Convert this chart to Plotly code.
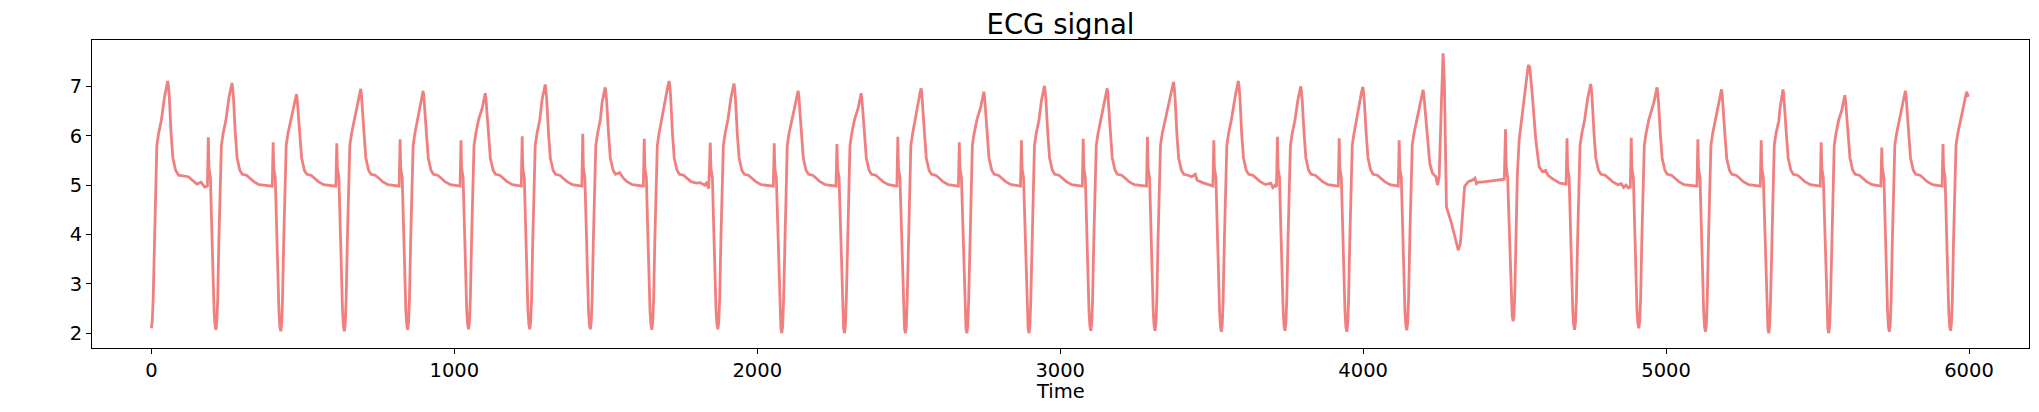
import plotly.graph_objects as go

# ECG trace, points (sample index, amplitude)
time_a = [0, 3, 6, 10, 14, 18, 24, 33, 44, 50, 54, 56, 59, 65, 71, 80, 90, 122, 135, 150, 164, 176, 185,
          188, 190, 195, 199, 203, 207, 210, 213, 216, 219, 223, 227, 231, 237, 246, 256, 262, 266, 268, 271, 277, 283, 292, 300, 314, 326, 338, 356, 399,
          402, 404, 409, 413, 417, 421, 424, 427, 430, 433, 437, 441, 445, 451, 460, 469, 475, 479, 481, 484, 490, 496, 505, 513, 527, 539, 551, 569, 609,
          612, 614, 619, 623, 627, 631, 634, 637, 640, 643, 647, 651, 655, 661, 670, 681, 687, 691, 693, 696, 702, 708, 717, 725, 739, 751, 763, 781, 818,
          821, 823, 828, 832, 836, 840, 843, 846, 849, 852, 856, 860, 864, 870, 879, 887, 893, 897, 899, 902, 908, 914, 923, 931, 945, 957, 969, 987, 1019]
ecg_a = [2.10, 2.25, 2.7, 3.9, 5.2, 5.8, 6.05, 6.32, 6.81, 7.01, 7.11, 7.03, 6.81, 6.05, 5.55, 5.3, 5.2, 5.17, 5.1, 5.02, 5.06, 4.96, 4.98,
         5.97, 5.35, 5.15, 4.2, 3.2, 2.45, 2.17, 2.07, 2.22, 2.7, 3.9, 5.2, 5.8, 6.05, 6.32, 6.77, 6.97, 7.07, 6.99, 6.77, 6.05, 5.55, 5.3, 5.22, 5.2, 5.14, 5.07, 5.01, 4.98,
         5.87, 5.35, 5.15, 4.2, 3.2, 2.45, 2.14, 2.04, 2.19, 2.7, 3.9, 5.2, 5.8, 6.05, 6.32, 6.54, 6.74, 6.84, 6.76, 6.54, 6.05, 5.55, 5.3, 5.22, 5.2, 5.14, 5.07, 5.01, 4.98,
         5.85, 5.35, 5.15, 4.2, 3.2, 2.45, 2.14, 2.04, 2.19, 2.7, 3.9, 5.2, 5.8, 6.05, 6.32, 6.65, 6.85, 6.95, 6.87, 6.65, 6.05, 5.55, 5.3, 5.22, 5.2, 5.14, 5.07, 5.01, 4.98,
         5.93, 5.35, 5.15, 4.2, 3.2, 2.45, 2.17, 2.07, 2.22, 2.7, 3.9, 5.2, 5.8, 6.05, 6.32, 6.61, 6.81, 6.91, 6.83, 6.61, 6.05, 5.55, 5.3, 5.22, 5.2, 5.14, 5.07, 5.01, 4.98]

time_b = [1022, 1024, 1029, 1033, 1037, 1041, 1044, 1047, 1050, 1053, 1057, 1061, 1065, 1071, 1080, 1092, 1098, 1102, 1104, 1107, 1113, 1119, 1128, 1136, 1150, 1162, 1174, 1192, 1221,
          1224, 1226, 1231, 1235, 1239, 1243, 1246, 1249, 1252, 1255, 1259, 1263, 1267, 1273, 1282, 1290, 1296, 1300, 1302, 1305, 1311, 1317, 1326, 1334, 1348, 1360, 1372, 1390, 1421,
          1424, 1426, 1431, 1435, 1439, 1443, 1446, 1449, 1452, 1455, 1459, 1463, 1467, 1473, 1482, 1488, 1494, 1498, 1500, 1503, 1509, 1515, 1524, 1532, 1546, 1558, 1570, 1588, 1624,
          1627, 1629, 1634, 1638, 1642, 1646, 1649, 1652, 1655, 1658, 1662, 1666, 1670, 1676, 1685, 1699, 1705, 1709, 1711, 1714, 1720, 1726, 1735, 1743, 1757, 1769, 1781, 1799, 1812, 1826, 1832, 1840,
          1845, 1847, 1852, 1856, 1860, 1864, 1867, 1870, 1873, 1876, 1880, 1884, 1888, 1894, 1903, 1913, 1919, 1923, 1925, 1928, 1934, 1940, 1949, 1957, 1971, 1983, 1995, 2013, 2053]
ecg_b = [5.91, 5.35, 5.15, 4.2, 3.2, 2.45, 2.18, 2.08, 2.23, 2.7, 3.9, 5.2, 5.8, 6.05, 6.32, 6.56, 6.76, 6.86, 6.78, 6.56, 6.05, 5.55, 5.3, 5.22, 5.2, 5.14, 5.07, 5.01, 4.98,
         5.99, 5.35, 5.15, 4.2, 3.2, 2.45, 2.18, 2.08, 2.23, 2.7, 3.9, 5.2, 5.8, 6.05, 6.32, 6.74, 6.94, 7.04, 6.96, 6.74, 6.05, 5.55, 5.3, 5.22, 5.2, 5.14, 5.07, 5.01, 4.98,
         6.04, 5.35, 5.15, 4.2, 3.2, 2.45, 2.18, 2.08, 2.23, 2.7, 3.9, 5.2, 5.8, 6.05, 6.32, 6.68, 6.88, 6.98, 6.90, 6.68, 6.05, 5.55, 5.3, 5.22, 5.25, 5.14, 5.07, 5.01, 4.98,
         5.94, 5.35, 5.15, 4.2, 3.2, 2.45, 2.17, 2.07, 2.22, 2.7, 3.9, 5.2, 5.8, 6.05, 6.32, 6.81, 7.01, 7.11, 7.03, 6.81, 6.05, 5.55, 5.3, 5.22, 5.2, 5.14, 5.07, 5.04, 5.05, 5.0, 5.04, 4.93,
         5.86, 5.35, 5.15, 4.2, 3.2, 2.45, 2.18, 2.08, 2.23, 2.7, 3.9, 5.2, 5.8, 6.05, 6.32, 6.76, 6.96, 7.06, 6.98, 6.76, 6.05, 5.55, 5.3, 5.22, 5.2, 5.14, 5.07, 5.01, 4.98]

time_c = [2056, 2058, 2063, 2067, 2071, 2075, 2078, 2081, 2084, 2087, 2091, 2095, 2099, 2105, 2114, 2125, 2131, 2135, 2137, 2140, 2146, 2152, 2161, 2169, 2183, 2195, 2207, 2225, 2260,
          2263, 2265, 2270, 2274, 2278, 2282, 2285, 2288, 2291, 2294, 2298, 2302, 2306, 2312, 2321, 2333, 2339, 2343, 2345, 2348, 2354, 2360, 2369, 2377, 2391, 2403, 2415, 2433, 2461,
          2464, 2466, 2471, 2475, 2479, 2483, 2486, 2489, 2492, 2495, 2499, 2503, 2507, 2513, 2522, 2531, 2537, 2541, 2543, 2546, 2552, 2558, 2567, 2575, 2589, 2601, 2613, 2631, 2664,
          2667, 2669, 2674, 2678, 2682, 2686, 2689, 2692, 2695, 2698, 2702, 2706, 2710, 2716, 2725, 2738, 2744, 2748, 2750, 2753, 2759, 2765, 2774, 2782, 2796, 2808, 2820, 2838, 2869,
          2872, 2874, 2879, 2883, 2887, 2891, 2894, 2897, 2900, 2903, 2907, 2911, 2915, 2921, 2930, 2938, 2944, 2948, 2950, 2953, 2959, 2965, 2974, 2982, 2996, 3008, 3020, 3038, 3073]
ecg_c = [5.85, 5.35, 5.15, 4.2, 3.2, 2.45, 2.1, 2.0, 2.15, 2.7, 3.9, 5.2, 5.8, 6.05, 6.32, 6.61, 6.81, 6.91, 6.83, 6.61, 6.05, 5.55, 5.3, 5.22, 5.2, 5.14, 5.07, 5.01, 4.98,
         5.83, 5.35, 5.15, 4.2, 3.2, 2.45, 2.1, 2.0, 2.15, 2.7, 3.9, 5.2, 5.8, 6.05, 6.32, 6.56, 6.76, 6.86, 6.78, 6.56, 6.05, 5.55, 5.3, 5.22, 5.2, 5.14, 5.07, 5.01, 4.98,
         5.98, 5.35, 5.15, 4.2, 3.2, 2.45, 2.1, 2.0, 2.15, 2.7, 3.9, 5.2, 5.8, 6.05, 6.32, 6.66, 6.86, 6.96, 6.88, 6.66, 6.05, 5.55, 5.3, 5.22, 5.2, 5.14, 5.07, 5.01, 4.98,
         5.87, 5.35, 5.15, 4.2, 3.2, 2.45, 2.1, 2.0, 2.15, 2.7, 3.9, 5.2, 5.8, 6.05, 6.32, 6.59, 6.79, 6.89, 6.81, 6.59, 6.05, 5.55, 5.3, 5.22, 5.2, 5.14, 5.07, 5.01, 4.98,
         5.91, 5.35, 5.15, 4.2, 3.2, 2.45, 2.1, 2.0, 2.15, 2.7, 3.9, 5.2, 5.8, 6.05, 6.32, 6.71, 6.91, 7.01, 6.93, 6.71, 6.05, 5.55, 5.3, 5.22, 5.2, 5.14, 5.07, 5.01, 4.98]

time_d = [3076, 3078, 3083, 3087, 3091, 3095, 3098, 3101, 3104, 3107, 3111, 3115, 3119, 3125, 3134, 3145, 3151, 3155, 3157, 3160, 3166, 3172, 3181, 3189, 3203, 3215, 3227, 3245, 3285,
          3288, 3290, 3295, 3299, 3303, 3307, 3310, 3313, 3316, 3319, 3323, 3327, 3331, 3337, 3346, 3364, 3370, 3374, 3376, 3379, 3385, 3391, 3400, 3408, 3422, 3434, 3446, 3452, 3470, 3504,
          3507, 3509, 3514, 3518, 3522, 3526, 3529, 3532, 3535, 3538, 3542, 3546, 3550, 3556, 3565, 3578, 3584, 3588, 3590, 3593, 3599, 3605, 3614, 3622, 3636, 3648, 3660, 3678, 3695, 3702, 3710, 3714,
          3717, 3719, 3724, 3728, 3732, 3736, 3739, 3742, 3745, 3748, 3752, 3756, 3760, 3766, 3775, 3784, 3790, 3794, 3796, 3799, 3805, 3811, 3820, 3828, 3842, 3854, 3866, 3884, 3918,
          3921, 3923, 3928, 3932, 3936, 3940, 3943, 3946, 3949, 3952, 3956, 3960, 3964, 3970, 3979, 3989, 3995, 3999, 4001, 4004, 4010, 4016, 4025, 4033, 4047, 4059, 4071, 4089, 4116]
ecg_d = [5.94, 5.35, 5.15, 4.2, 3.2, 2.45, 2.15, 2.05, 2.2, 2.7, 3.9, 5.2, 5.8, 6.05, 6.32, 6.66, 6.86, 6.96, 6.88, 6.66, 6.05, 5.55, 5.3, 5.22, 5.2, 5.14, 5.07, 5.01, 4.98,
         5.98, 5.35, 5.15, 4.2, 3.2, 2.45, 2.15, 2.05, 2.2, 2.7, 3.9, 5.2, 5.8, 6.05, 6.32, 6.79, 6.99, 7.09, 7.01, 6.79, 6.05, 5.55, 5.3, 5.22, 5.2, 5.17, 5.22, 5.1, 5.05, 4.98,
         5.91, 5.35, 5.15, 4.2, 3.2, 2.45, 2.13, 2.03, 2.18, 2.7, 3.9, 5.2, 5.8, 6.05, 6.32, 6.81, 7.01, 7.11, 7.03, 6.81, 6.05, 5.55, 5.3, 5.22, 5.2, 5.14, 5.07, 5.01, 5.04, 4.95, 5.0, 4.96,
         5.98, 5.35, 5.15, 4.2, 3.2, 2.45, 2.15, 2.05, 2.2, 2.7, 3.9, 5.2, 5.8, 6.05, 6.32, 6.7, 6.9, 7.0, 6.92, 6.7, 6.05, 5.55, 5.3, 5.22, 5.2, 5.14, 5.07, 5.01, 4.98,
         5.95, 5.35, 5.15, 4.2, 3.2, 2.45, 2.13, 2.03, 2.18, 2.7, 3.9, 5.2, 5.8, 6.05, 6.32, 6.69, 6.89, 6.99, 6.91, 6.69, 6.05, 5.55, 5.3, 5.22, 5.2, 5.14, 5.07, 5.01, 4.98]

# the irregular stretch around 4260 and the beat after it
time_e = [4119, 4121, 4126, 4130, 4134, 4138, 4141, 4144, 4147, 4150, 4154, 4158, 4162, 4168, 4177, 4188, 4194, 4198, 4200, 4203,
          4209, 4220, 4229, 4240, 4246, 4251, 4259, 4264, 4268, 4272, 4275, 4292, 4303, 4314, 4321, 4328, 4335, 4347, 4361, 4369, 4374, 4380, 4391, 4418, 4446, 4466,
          4470, 4472, 4477, 4481, 4485, 4489, 4492, 4495, 4498, 4501, 4505, 4509, 4515, 4526, 4538, 4545, 4550, 4555, 4559, 4570, 4581, 4592, 4602, 4610, 4627, 4649, 4670,
          4673, 4675, 4680, 4684, 4688, 4692, 4695, 4698, 4701, 4704, 4708, 4712, 4716, 4722, 4731, 4741, 4747, 4751, 4753, 4756, 4762, 4768, 4777, 4785, 4799, 4811, 4823, 4841, 4852, 4860, 4868, 4876, 4882]
ecg_e = [5.91, 5.35, 5.15, 4.2, 3.2, 2.45, 2.16, 2.06, 2.21, 2.7, 3.9, 5.2, 5.8, 6.05, 6.32, 6.63, 6.83, 6.93, 6.85, 6.63,
         6.2, 5.44, 5.24, 5.17, 5.0, 5.17, 6.8, 7.67, 7.13, 5.44, 4.56, 4.22, 3.95, 3.68, 3.82, 4.36, 4.97, 5.07, 5.1, 5.14, 5.03, 5.06, 5.06, 5.08, 5.1, 5.12,
         6.13, 5.4, 5.15, 4.3, 3.4, 2.7, 2.35, 2.24, 2.35, 2.9, 4.0, 5.2, 5.91, 6.45, 7.1, 7.43, 7.39, 7.1, 6.79, 5.91, 5.37, 5.27, 5.3, 5.2, 5.12, 5.04, 5.02,
         5.95, 5.35, 5.15, 4.2, 3.2, 2.45, 2.17, 2.07, 2.22, 2.7, 3.9, 5.2, 5.8, 6.05, 6.32, 6.75, 6.95, 7.05, 6.97, 6.75, 6.05, 5.55, 5.3, 5.22, 5.2, 5.14, 5.07, 5.01, 5.03, 4.95, 5.0, 4.94, 4.96]

time_f = [4885, 4887, 4892, 4896, 4900, 4904, 4907, 4910, 4913, 4916, 4920, 4924, 4928, 4934, 4943, 4960, 4966, 4970, 4972, 4975, 4981, 4987, 4996, 5004, 5018, 5030, 5042, 5060, 5102,
          5105, 5107, 5112, 5116, 5120, 5124, 5127, 5130, 5133, 5136, 5140, 5144, 5148, 5154, 5163, 5173, 5179, 5183, 5185, 5188, 5194, 5200, 5209, 5217, 5231, 5243, 5255, 5273, 5311,
          5314, 5316, 5321, 5325, 5329, 5333, 5336, 5339, 5342, 5345, 5349, 5353, 5357, 5363, 5372, 5376, 5382, 5386, 5388, 5391, 5397, 5403, 5412, 5420, 5434, 5446, 5458, 5476, 5509,
          5512, 5514, 5519, 5523, 5527, 5531, 5534, 5537, 5540, 5543, 5547, 5551, 5555, 5561, 5570, 5580, 5586, 5590, 5592, 5595, 5601, 5607, 5616, 5624, 5638, 5650, 5662, 5680, 5709,
          5712, 5714, 5719, 5723, 5727, 5731, 5734, 5737, 5740, 5743, 5747, 5751, 5755, 5761, 5770, 5780, 5786, 5790, 5792, 5795, 5801, 5807, 5816, 5824, 5838, 5850, 5862, 5880, 5911,
          5914, 5916, 5921, 5925, 5929, 5933, 5936, 5939, 5942, 5945, 5949, 5953, 5957, 5963, 5972, 5982, 5988, 5992, 5996, 5999]
ecg_f = [5.96, 5.35, 5.15, 4.2, 3.2, 2.45, 2.2, 2.1, 2.25, 2.7, 3.9, 5.2, 5.8, 6.05, 6.32, 6.68, 6.88, 6.98, 6.90, 6.68, 6.05, 5.55, 5.3, 5.22, 5.2, 5.14, 5.07, 5.01, 4.98,
         5.93, 5.35, 5.15, 4.2, 3.2, 2.45, 2.13, 2.03, 2.18, 2.7, 3.9, 5.2, 5.8, 6.05, 6.32, 6.64, 6.84, 6.94, 6.86, 6.64, 6.05, 5.55, 5.3, 5.22, 5.2, 5.14, 5.07, 5.01, 4.98,
         5.91, 5.35, 5.15, 4.2, 3.2, 2.45, 2.1, 2.0, 2.15, 2.7, 3.9, 5.2, 5.8, 6.05, 6.3, 6.55, 6.84, 6.94, 6.86, 6.64, 6.05, 5.55, 5.3, 5.22, 5.2, 5.14, 5.07, 5.01, 4.98,
         5.87, 5.35, 5.15, 4.2, 3.2, 2.45, 2.1, 2.0, 2.15, 2.7, 3.9, 5.2, 5.8, 6.05, 6.32, 6.52, 6.72, 6.82, 6.74, 6.52, 6.05, 5.55, 5.3, 5.22, 5.2, 5.14, 5.07, 5.01, 4.98,
         5.76, 5.35, 5.15, 4.2, 3.2, 2.45, 2.13, 2.03, 2.18, 2.7, 3.9, 5.2, 5.8, 6.05, 6.32, 6.61, 6.81, 6.91, 6.83, 6.61, 6.05, 5.55, 5.3, 5.22, 5.2, 5.14, 5.07, 5.01, 4.98,
         5.83, 5.35, 5.15, 4.2, 3.2, 2.45, 2.15, 2.05, 2.2, 2.7, 3.9, 5.2, 5.8, 6.05, 6.32, 6.6, 6.82, 6.89, 6.82, 6.79]

x_ticks = [0, 1000, 2000, 3000, 4000, 5000, 6000]
y_ticks = [2, 3, 4, 5, 6, 7]

time = time_a + time_b + time_c + time_d + time_e + time_f
ecg = ecg_a + ecg_b + ecg_c + ecg_d + ecg_e + ecg_f

fig = go.Figure()
fig.add_trace(go.Scatter(x=time, y=ecg, mode="lines",
                         line=dict(color="#F08080", width=2.8), showlegend=False))

axis_style = dict(showline=True, mirror=True, linecolor="black", linewidth=1.1,
                  ticks="outside", ticklen=5, tickwidth=1.1, tickcolor="black",
                  showgrid=False, zeroline=False,
                  tickfont=dict(family="DejaVu Sans", size=19.5, color="black"))

# the page body adds an 8px offset, so the figure is 8px smaller than the window
fig.update_layout(
    width=2031, height=404,
    margin=dict(l=84, r=10, t=32, b=64),
    plot_bgcolor="white", paper_bgcolor="white",
    title=dict(text="ECG signal", x=0.5, xanchor="center", xref="paper",
               y=1 - 16.5 / 404, yref="container", yanchor="middle",
               font=dict(family="DejaVu Sans", size=27.5, color="black")),
    xaxis=dict(range=[-196, 6198], tickvals=x_ticks, **axis_style),
    yaxis=dict(range=[1.70, 7.94], tickvals=y_ticks, **axis_style),
    annotations=[dict(text="Time", x=0.5, xref="paper", y=0, yref="paper",
                      yshift=-43, yanchor="middle", showarrow=False,
                      font=dict(family="DejaVu Sans", size=19.5, color="black"))],
)

fig.write_html("out.html")
